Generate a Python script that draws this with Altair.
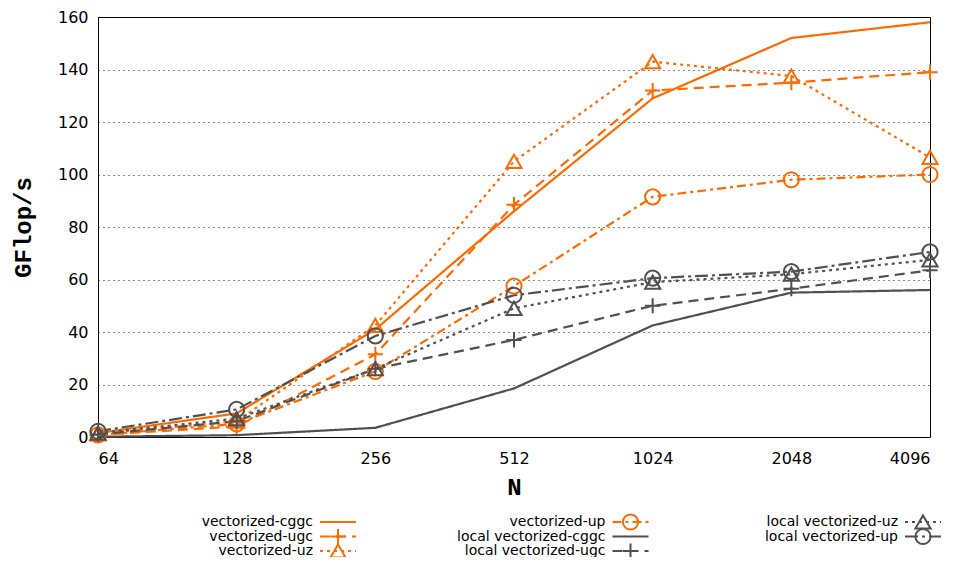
import altair as alt
import pandas as pd

# ---- data ----
N_VALUES = [64, 128, 256, 512, 1024, 2048, 4096]
SERIES = [
    "vectorized-cggc", "vectorized-ugc", "vectorized-uz", "vectorized-up",
    "local vectorized-cggc", "local vectorized-ugc", "local vectorized-uz", "local vectorized-up",
]
vectorized_cggc = [1.5, 9, 41, 86, 129, 152, 158]
vectorized_ugc = [0.8, 4, 31.5, 88.5, 132, 135, 139]
vectorized_uz = [1.2, 6, 42.5, 105, 143, 137.5, 106.5]
vectorized_up = [0.8, 5, 25, 57.5, 91.5, 98, 100]
local_cggc = [0.1, 0.7, 3.5, 18.5, 42.5, 55, 56]
local_ugc = [1.0, 6, 26, 37, 50, 56.5, 63.5]
local_uz = [1.5, 7, 26, 49, 59, 62, 67.5]
local_up = [2.2, 10.5, 38.5, 54, 60.5, 63, 70.5]
VALUES = [vectorized_cggc, vectorized_ugc, vectorized_uz, vectorized_up,
          local_cggc, local_ugc, local_uz, local_up]
Y_TICKS = [0, 20, 40, 60, 80, 100, 120, 140, 160]

# ---- styles ----
ORANGE = "#ff6a00"
GRAY = "#505050"
PLUS = "M-1,0L1,0M0,-1L0,1"
COLORS = [ORANGE] * 4 + [GRAY] * 4
DASHES = [[1, 0], [10, 6], [3, 4], [9, 4, 3, 4],
          [1, 0], [10, 6], [3, 4], [13, 4, 3, 4]]
SHAPES = [None, PLUS, "triangle-up", "circle", None, PLUS, "triangle-up", "circle"]

rows = []
for s, vals in zip(SERIES, VALUES):
    for n, v in zip(N_VALUES, vals):
        rows.append({"series": s, "N": n, "gflops": v})
df = pd.DataFrame(rows)

marker_series = [s for s, sh in zip(SERIES, SHAPES) if sh is not None]
marker_shapes = [sh for sh in SHAPES if sh is not None]
df_pts = df[df["series"].isin(marker_series)]

color_scale = alt.Scale(domain=SERIES, range=COLORS)
dash_scale = alt.Scale(domain=SERIES, range=DASHES)
shape_scale = alt.Scale(domain=marker_series, range=marker_shapes)

x_enc = alt.X("N:Q", scale=alt.Scale(type="log", base=2, domain=[64, 4096], nice=False),
              axis=alt.Axis(values=N_VALUES, title="N", grid=False, ticks=False, domain=False,
                            labelPadding=13, titlePadding=9, format="d"))
y_enc = alt.Y("gflops:Q", scale=alt.Scale(domain=[0, 160], nice=False),
              axis=alt.Axis(values=Y_TICKS, title="GFlop/s", grid=True, ticks=False, domain=False,
                            labelPadding=10, titlePadding=22))

lines = alt.Chart(df).mark_line(strokeWidth=2.2, clip=False).encode(
    x=x_enc, y=y_enc,
    color=alt.Color("series:N", scale=color_scale, legend=None),
    strokeDash=alt.StrokeDash("series:N", scale=dash_scale, legend=None),
    detail="series:N",
)
points = alt.Chart(df_pts).mark_point(filled=False, strokeWidth=2, size=230, opacity=1).encode(
    x=alt.X("N:Q"), y=alt.Y("gflops:Q"),
    color=alt.Color("series:N", scale=color_scale, legend=None),
    shape=alt.Shape("series:N", scale=shape_scale, legend=None),
)
main = alt.layer(lines, points)

# ---- legend (column-major, 3 rows) ----
leg = pd.DataFrame({
    "series": SERIES,
    "col": [i // 3 for i in range(len(SERIES))],
    "row": [i % 3 for i in range(len(SERIES))],
})
leg_pts = leg[leg["series"].isin(marker_series)]
lx = alt.X("col:Q", scale=alt.Scale(domain=[0, 2], range=[240, 825], nice=False, zero=False), axis=None)
ly = alt.Y("row:Q", scale=alt.Scale(domain=[0, 2], range=[505, 534], nice=False, zero=False), axis=None)

leg_rule = alt.Chart(leg).mark_rule(strokeWidth=2.2, xOffset=-18, x2Offset=18).encode(
    x=lx, x2="col:Q", y=ly,
    color=alt.Color("series:N", scale=color_scale, legend=None),
    strokeDash=alt.StrokeDash("series:N", scale=dash_scale, legend=None),
)
leg_point = alt.Chart(leg_pts).mark_point(filled=False, strokeWidth=2, size=230, opacity=1).encode(
    x=lx, y=ly,
    color=alt.Color("series:N", scale=color_scale, legend=None),
    shape=alt.Shape("series:N", scale=shape_scale, legend=None),
)
leg_text = alt.Chart(leg).mark_text(align="right", baseline="middle", dx=-25, fontSize=14,
                                    font="DejaVu Sans", color="black").encode(
    x=lx, y=ly, text="series:N",
)
legend = alt.layer(leg_rule, leg_point, leg_text)

chart = alt.layer(main, legend).resolve_scale(x="independent", y="independent").properties(
    width=832, height=420,
    autosize=alt.AutoSizeParams(type="none"),
    padding={"left": 90, "top": 9, "right": 21, "bottom": 120},
).configure_view(
    stroke="black", strokeWidth=1,
).configure_axis(
    labelFont="DejaVu Sans", labelFontSize=16, labelColor="black",
    titleFont="Liberation Mono", titleFontSize=24, titleFontWeight="bold", titleColor="black",
    gridColor="black", gridDash=[1, 4], gridWidth=1, gridOpacity=0.9,
)

chart.save("out.html", embed_options={"renderer": "svg", "actions": False})
